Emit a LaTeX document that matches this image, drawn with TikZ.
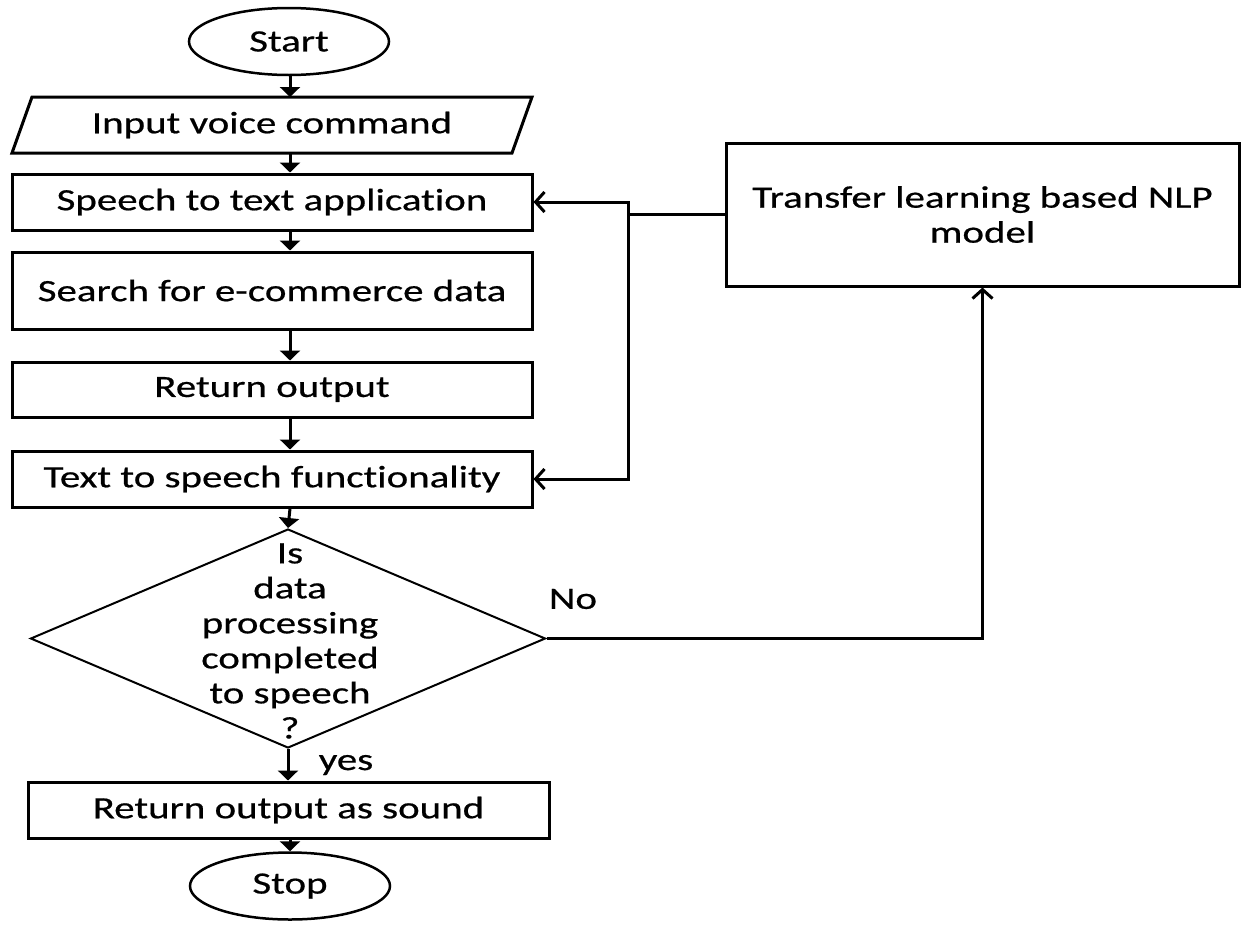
\documentclass[tikz,border=0pt]{standalone}
\usepackage{fontspec}
\setmainfont{Carlito}[FakeStretch=1.32, FakeBold=0.6, Ligatures=NoCommon]
\usetikzlibrary{shapes.geometric,arrows.meta}
\begin{document}
\begin{tikzpicture}[x=1pt,y=-1pt,
  txt/.style={font=\fontsize{31}{35}\selectfont},
  stepbox/.style={draw, rectangle, line width=3pt, minimum width=520pt, inner sep=0pt, txt},
  term/.style={draw, ellipse, line width=2.5pt, minimum width=200pt, minimum height=67pt, inner sep=0pt, txt},
  flow/.style={line width=3pt, -{Triangle[width=20pt,length=10pt]}},
  side/.style={line width=3pt, line join=miter, -{Straight Barb[length=9pt,width=20pt]}},
  plain/.style={line width=3pt}
]
\useasboundingbox (0,0) rectangle (1241,924);
\coordinate (col) at (290,0);
\coordinate (bx) at (628,0);

\node[term] (start) at (289,41.5) {Start};
\node[stepbox, draw=none, outer sep=0pt, minimum height=56pt] (input) at (272,125) {Input voice command};
\draw[line width=3pt, line join=miter] ([xshift=20pt]input.north west) -- (input.north east)
  -- ([xshift=-20pt]input.south east) -- (input.south west) -- cycle;
\node[stepbox, minimum height=56pt] (speech) at (272,202) {Speech to text application};
\node[stepbox, minimum height=77pt] (search) at (272,290.5) {Search for e-commerce data};
\node[stepbox, minimum height=55pt] (retout) at (272,389.5) {Return output};
\node[stepbox, minimum height=56pt] (tts) at (272,479) {Text to speech functionality};
\node[draw, diamond, line width=2pt, minimum width=515pt, minimum height=219pt, inner sep=0pt] (dec) at (288,638.5) {};
\node[txt, align=center, inner sep=0pt] (dectext) at (290,641) {Is\\data\\processing\\completed\\to speech\\?};
\node[stepbox, minimum width=521pt, minimum height=56pt] (sound) at (288.5,810) {Return output as sound};
\node[term] (stop) at (290,886) {Stop};
\node[stepbox, minimum width=513pt, minimum height=143pt, align=center] (nlp) at (982.5,214.5) {Transfer learning based NLP\\model};

\node[txt] (nolabel) at (573,599) {No};
\node[txt] (yeslabel) at (346,765) {yes};

\draw[flow] (start.south -| col) -- (input.north -| col);
\draw[flow] (input.south -| col) -- (speech.north -| col);
\draw[flow] (speech.south -| col) -- (search.north -| col);
\draw[flow] (search.south -| col) -- (retout.north -| col);
\draw[flow] (retout.south -| col) -- (tts.north -| col);
\draw[flow] (tts.south -| col) -- (dec.north);
\draw[flow] (dec.south) -- (sound.north -| dec.south);
\draw[flow] (sound.south -| col) -- (stop.north);

\draw[plain] (nlp.west) -- (nlp.west -| bx);
\draw[side] (nlp.west -| bx) |- (speech.east);
\draw[side] (nlp.west -| bx) |- (tts.east);
\draw[side] (dec.east) -| (nlp.south);
\end{tikzpicture}
\end{document}
